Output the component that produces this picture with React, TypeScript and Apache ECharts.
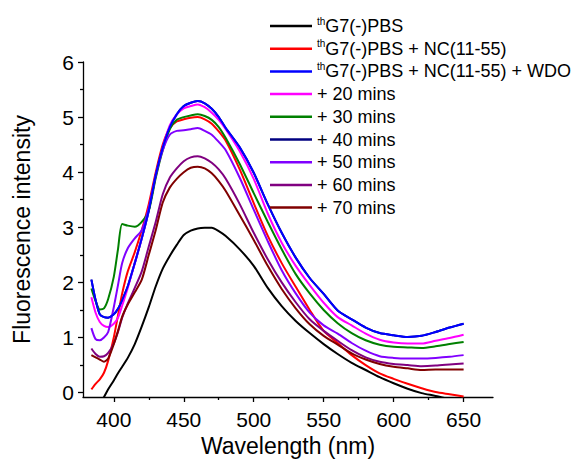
import React, { useEffect, useRef } from "react";
import * as echarts from "echarts";

// Wavelength (nm) sample points
const wavelengths = [384, 387, 390, 393, 396, 400, 403, 406, 410, 415, 420, 425, 430, 435, 440, 445, 450, 455, 460, 465, 470, 475, 480, 490, 500, 510, 520, 530, 540, 550, 560, 570, 580, 590, 600, 610, 620, 630, 640, 650];

const seriesNames = [
  "G7(-)PBS",
  "G7(-)PBS + NC(11-55)",
  "G7(-)PBS + NC(11-55) + WDO",
  "+ 20 mins",
  "+ 30 mins",
  "+ 40 mins",
  "+ 50 mins",
  "+ 60 mins",
  "+ 70 mins",
];

const pbs = [-0.45, -0.33, -0.2, -0.08, 0.06, 0.22, 0.35, 0.47, 0.63, 0.88, 1.2, 1.55, 1.93, 2.25, 2.48, 2.68, 2.86, 2.94, 2.98, 2.99, 2.99, 2.93, 2.84, 2.6, 2.3, 1.9, 1.57, 1.3, 1.08, 0.88, 0.7, 0.54, 0.41, 0.28, 0.17, 0.07, -0.01, -0.06, -0.12, -0.18];
const pbsNc = [0.06, 0.16, 0.24, 0.36, 0.58, 1.0, 1.4, 1.8, 2.2, 2.55, 2.95, 3.42, 4.0, 4.5, 4.8, 4.92, 4.96, 4.99, 5.0, 4.96, 4.88, 4.74, 4.57, 4.05, 3.44, 2.85, 2.35, 1.92, 1.5, 1.12, 0.9, 0.68, 0.5, 0.35, 0.25, 0.16, 0.08, 0.01, -0.03, -0.07];
const pbsNcWdo = [2.05, 1.68, 1.42, 1.37, 1.36, 1.42, 1.52, 1.68, 1.93, 2.35, 2.8, 3.3, 3.95, 4.45, 4.82, 5.05, 5.2, 5.26, 5.29, 5.25, 5.15, 5.0, 4.8, 4.45, 3.99, 3.42, 2.9, 2.45, 2.08, 1.79, 1.49, 1.33, 1.18, 1.08, 1.04, 1.01, 1.03, 1.1, 1.18, 1.25];
const min20 = [1.73, 1.45, 1.28, 1.21, 1.19, 1.25, 1.36, 1.58, 1.9, 2.35, 2.8, 3.32, 3.92, 4.45, 4.85, 5.05, 5.16, 5.2, 5.23, 5.18, 5.08, 4.95, 4.78, 4.38, 3.88, 3.25, 2.72, 2.3, 1.95, 1.63, 1.37, 1.22, 1.07, 0.96, 0.91, 0.89, 0.89, 0.94, 0.99, 1.05];
const min30 = [1.89, 1.66, 1.51, 1.53, 1.7, 2.1, 2.6, 3.06, 3.03, 3.01, 3.1, 3.3, 3.9, 4.4, 4.78, 4.95, 5.0, 5.03, 5.05, 5.02, 4.95, 4.82, 4.62, 4.15, 3.62, 3.1, 2.6, 2.15, 1.8, 1.5, 1.26, 1.08, 0.95, 0.87, 0.83, 0.82, 0.81, 0.84, 0.88, 0.92];
const min40 = [2.05, 1.68, 1.42, 1.37, 1.36, 1.42, 1.52, 1.68, 1.93, 2.35, 2.8, 3.3, 3.95, 4.45, 4.82, 5.05, 5.2, 5.26, 5.29, 5.25, 5.15, 5.0, 4.8, 4.45, 3.99, 3.42, 2.9, 2.45, 2.08, 1.79, 1.49, 1.33, 1.18, 1.08, 1.04, 1.01, 1.03, 1.1, 1.18, 1.25];
const min50 = [1.17, 0.97, 0.95, 1.0, 1.1, 1.55, 1.95, 2.35, 2.62, 2.8, 2.95, 3.35, 3.95, 4.4, 4.68, 4.75, 4.76, 4.78, 4.8, 4.75, 4.68, 4.55, 4.4, 3.9, 3.32, 2.75, 2.22, 1.8, 1.45, 1.22, 1.07, 0.9, 0.76, 0.66, 0.63, 0.62, 0.62, 0.63, 0.65, 0.68];
const min60 = [0.8, 0.7, 0.65, 0.66, 0.72, 0.89, 1.1, 1.36, 1.62, 1.9, 2.2, 2.65, 3.1, 3.6, 3.9, 4.07, 4.2, 4.27, 4.29, 4.25, 4.17, 4.05, 3.88, 3.42, 2.9, 2.42, 2.0, 1.64, 1.33, 1.12, 0.94, 0.77, 0.64, 0.56, 0.52, 0.5, 0.48, 0.49, 0.51, 0.53];
const min70 = [0.68, 0.64, 0.6, 0.56, 0.62, 0.88, 1.12, 1.38, 1.6, 1.82, 2.05, 2.5, 2.95, 3.45, 3.72, 3.88, 4.0, 4.08, 4.1, 4.07, 3.98, 3.84, 3.66, 3.22, 2.77, 2.3, 1.88, 1.53, 1.24, 1.03, 0.87, 0.71, 0.6, 0.52, 0.47, 0.44, 0.41, 0.42, 0.42, 0.42];

const seriesValues = [pbs, pbsNc, pbsNcWdo, min20, min30, min40, min50, min60, min70];
const seriesColors = ["#000000", "#ff0000", "#0000ff", "#ff00ff", "#008000", "#000080", "#8000ff", "#800080", "#800000"];
const seriesZ = [2, 2, 3, 2, 2, 1, 2, 2, 2];

const xLabelValues = [400, 450, 500, 550, 600, 650];
const xMinorTicks = [425, 475, 525, 575, 625];
const yLabelValues = [0, 1, 2, 3, 4, 5, 6];
const yMinorTicks = [0.5, 1.5, 2.5, 3.5, 4.5, 5.5];

export default function App() {
  const ref = useRef<HTMLDivElement>(null);
  useEffect(() => {
    if (!ref.current) return;
    const chart = echarts.init(ref.current, null, { renderer: "svg" });
    const font = "'Liberation Sans', Arial, sans-serif";
    const axisColor = "#000";
    const X_MIN = 378;
    const X_MAX = 671;
    const Y_MIN = -0.08;
    const Y_MAX = 6;

    const series = seriesNames.map((name, k) => ({
      name,
      type: "line",
      xAxisIndex: 0,
      yAxisIndex: 0,
      data: wavelengths.map((w, i) => [w, seriesValues[k][i]]),
      symbol: "none",
      showSymbol: false,
      smooth: 0.25,
      clip: true,
      silent: true,
      z: seriesZ[k],
      lineStyle: { color: seriesColors[k], width: 2 },
      itemStyle: { color: seriesColors[k] },
    }));

    chart.setOption({
      animation: false,
      backgroundColor: "#ffffff",
      grid: { left: 83, right: 82, top: 62, bottom: 67, containLabel: false, outerBoundsMode: "none" },
      legend: {
        orient: "vertical",
        left: 270,
        top: 16,
        padding: 0,
        itemGap: 2.7,
        itemWidth: 42,
        itemHeight: 2.5,
        icon: "rect",
        selectedMode: false,
        data: seriesNames,
        formatter: (name: string) => (name.startsWith("G7") ? "{sup|th}" + name : name),
        textStyle: {
          fontSize: 18,
          fontFamily: font,
          color: "#000",
          lineHeight: 20,
          rich: {
            sup: { fontSize: 10, lineHeight: 10, verticalAlign: "top", fontFamily: font, color: "#000" },
          },
        },
      },
      xAxis: [
        {
          type: "value",
          min: X_MIN,
          max: X_MAX,
          position: "bottom",
          axisLine: { show: true, onZero: false, lineStyle: { color: axisColor, width: 1.3 } },
          axisTick: { show: true, inside: false, length: 5, customValues: xLabelValues, lineStyle: { color: axisColor, width: 1.3 } },
          axisLabel: { show: true, customValues: xLabelValues, fontSize: 21, fontFamily: font, color: "#000", margin: 12 },
          splitLine: { show: false },
          name: "Wavelength (nm)",
          nameLocation: "middle",
          nameGap: 37,
          nameMoveOverlap: false,
          nameTextStyle: { fontSize: 23, fontFamily: font, color: "#000" },
        },
        {
          type: "value",
          min: X_MIN,
          max: X_MAX,
          position: "bottom",
          axisLine: { show: false, onZero: false },
          axisTick: { show: true, inside: false, length: 3, customValues: xMinorTicks, lineStyle: { color: axisColor, width: 1.3 } },
          axisLabel: { show: false },
          splitLine: { show: false },
        },
      ],
      yAxis: [
        {
          type: "value",
          min: Y_MIN,
          max: Y_MAX,
          position: "left",
          axisLine: { show: true, onZero: false, lineStyle: { color: axisColor, width: 1.3 } },
          axisTick: { show: true, inside: false, length: 5, customValues: yLabelValues, lineStyle: { color: axisColor, width: 1.3 } },
          axisLabel: { show: true, customValues: yLabelValues, fontSize: 21, fontFamily: font, color: "#000", margin: 9 },
          splitLine: { show: false },
          name: "Fluorescence intensity",
          nameLocation: "middle",
          nameGap: 50,
          nameMoveOverlap: false,
          nameTextStyle: { fontSize: 23, fontFamily: font, color: "#000" },
        },
        {
          type: "value",
          min: Y_MIN,
          max: Y_MAX,
          position: "left",
          axisLine: { show: false, onZero: false },
          axisTick: { show: true, inside: false, length: 3, customValues: yMinorTicks, lineStyle: { color: axisColor, width: 1.3 } },
          axisLabel: { show: false },
          splitLine: { show: false },
        },
      ],
      series,
    });
    return () => {
      chart.dispose();
    };
  }, []);
  return (
    <div
      ref={ref}
      style={{ position: "fixed", left: 0, top: 0, width: 575, height: 464, background: "#fff" }}
    />
  );
}
